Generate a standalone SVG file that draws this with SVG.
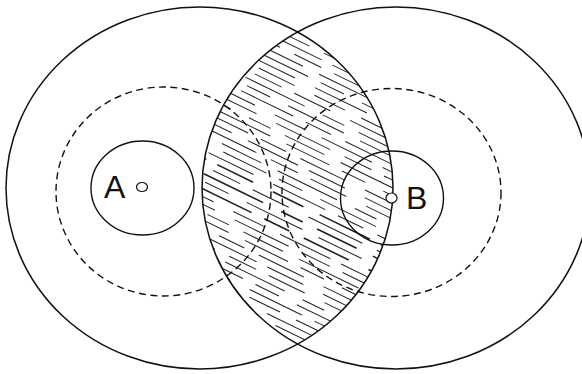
<svg xmlns="http://www.w3.org/2000/svg" width="582" height="374" viewBox="0 0 582 374">
<style>
.big{fill:none;stroke:#111;stroke-width:1.5}
.dash{fill:none;stroke:#111;stroke-width:1.4;stroke-dasharray:7 4.5}
.ring{fill:none;stroke:#111;stroke-width:1.4}
.dot{fill:#fff;stroke:#111;stroke-width:1.2}
.lbl{font-family:"Liberation Sans",Arial,sans-serif;font-size:32px;fill:#111}
.h path{fill:none;stroke:#222;stroke-width:1}
.h .b{stroke-width:1.6}
.d1{stroke-dasharray:48 14 26 20 62 18}
.d2{stroke-dasharray:34 18 56 12 40 22}
.d3{stroke-dasharray:66 20 24 16 44 18}
.d4{stroke-dasharray:28 16 50 22 58 14}
.d5{stroke-dasharray:40 22 60 16 30 14}
</style>
<defs>
<clipPath id="clipL"><ellipse cx="199.5" cy="188" rx="193.5" ry="181"/></clipPath>
<clipPath id="clipR"><ellipse cx="396" cy="188" rx="194" ry="181"/></clipPath>
</defs>
<rect width="582" height="374" fill="#fff"/>
<g id="overlap-hatch" clip-path="url(#clipL)">
<g clip-path="url(#clipR)">
<g class="h" transform="translate(297 188) rotate(26)">
<path class="d1" stroke-dashoffset="0" d="M-210 -140h420"/>
<path class="d4" stroke-dashoffset="57" d="M-210 -133h420"/>
<path class="d2" stroke-dashoffset="114" d="M-210 -126h420"/>
<path class="d5" stroke-dashoffset="171" d="M-210 -119h420"/>
<path class="d3" stroke-dashoffset="8" d="M-210 -112h420"/>
<path class="d1" stroke-dashoffset="65" d="M-210 -105h420"/>
<path class="d4" stroke-dashoffset="122" d="M-210 -98h420"/>
<path class="d2" stroke-dashoffset="179" d="M-210 -91h420"/>
<path class="d5" stroke-dashoffset="16" d="M-210 -84h420"/>
<path class="d3" stroke-dashoffset="73" d="M-210 -77h420"/>
<path class="d1" stroke-dashoffset="130" d="M-210 -70h420"/>
<path class="d4" stroke-dashoffset="187" d="M-210 -63h420"/>
<path class="d2" stroke-dashoffset="24" d="M-210 -56h420"/>
<path class="d5" stroke-dashoffset="81" d="M-210 -49h420"/>
<path class="d3" stroke-dashoffset="138" d="M-210 -42h420"/>
<path class="d1" stroke-dashoffset="195" d="M-210 -35h420"/>
<path class="d4" stroke-dashoffset="32" d="M-210 -28h420"/>
<path class="d2" stroke-dashoffset="89" d="M-210 -21h420"/>
<path class="d5" stroke-dashoffset="146" d="M-210 -14h420"/>
<path class="d3" stroke-dashoffset="3" d="M-210 -7h420"/>
<path class="d1" stroke-dashoffset="60" d="M-210 0h420"/>
<path class="d4" stroke-dashoffset="117" d="M-210 7h420"/>
<path class="d2 b" stroke-dashoffset="174" d="M-210 14h420"/>
<path class="d5" stroke-dashoffset="11" d="M-210 21h420"/>
<path class="d3 b" stroke-dashoffset="68" d="M-210 28h420"/>
<path class="d1" stroke-dashoffset="125" d="M-210 35h420"/>
<path class="d4 b" stroke-dashoffset="182" d="M-210 42h420"/>
<path class="d2" stroke-dashoffset="19" d="M-210 49h420"/>
<path class="d5" stroke-dashoffset="76" d="M-210 56h420"/>
<path class="d3" stroke-dashoffset="133" d="M-210 63h420"/>
<path class="d1" stroke-dashoffset="190" d="M-210 70h420"/>
<path class="d4" stroke-dashoffset="27" d="M-210 77h420"/>
<path class="d2" stroke-dashoffset="84" d="M-210 84h420"/>
<path class="d5" stroke-dashoffset="141" d="M-210 91h420"/>
<path class="d3" stroke-dashoffset="198" d="M-210 98h420"/>
<path class="d1" stroke-dashoffset="35" d="M-210 105h420"/>
<path class="d4" stroke-dashoffset="92" d="M-210 112h420"/>
<path class="d2" stroke-dashoffset="149" d="M-210 119h420"/>
<path class="d5" stroke-dashoffset="6" d="M-210 126h420"/>
<path class="d3" stroke-dashoffset="63" d="M-210 133h420"/>
<path class="d1" stroke-dashoffset="120" d="M-210 140h420"/>
</g>
</g>
</g>
<g id="zone-A">
<ellipse class="big" cx="199.5" cy="188" rx="193.5" ry="181"/>
<ellipse class="dash" cx="163.5" cy="191.5" rx="107.5" ry="104.5"/>
</g>
<g id="zone-B">
<ellipse class="big" cx="396" cy="188" rx="194" ry="181"/>
<ellipse class="dash" cx="391.5" cy="192.5" rx="109.5" ry="104"/>
</g>
<g id="node-A">
<ellipse class="ring" cx="142.5" cy="188" rx="51.5" ry="47"/>
<ellipse class="dot" cx="142" cy="187" rx="5.5" ry="4.5"/>
<text class="lbl" x="104" y="198">A</text>
</g>
<g id="node-B">
<ellipse class="ring" cx="392" cy="198" rx="51.5" ry="47"/>
<ellipse class="dot" cx="391.5" cy="198" rx="5.5" ry="5"/>
<text class="lbl" x="406" y="209">B</text>
</g>
<g id="connectors"/>
</svg>
